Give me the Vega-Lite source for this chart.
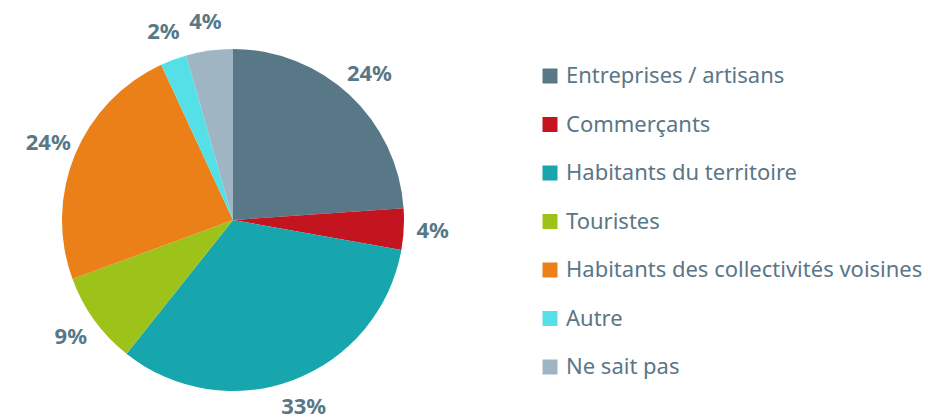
{
  "$schema": "https://vega.github.io/schema/vega-lite/v6.json",
  "autosize": {"type": "none"},
  "width": 466,
  "height": 398,
  "padding": {"top": 21, "left": 0, "right": 462, "bottom": 0},
  "background": "white",
  "config": {"view": {"stroke": null}, "font": "Noto Sans"},
  "data": {
    "values": [
      {"idx": 1, "cat": "Entreprises / artisans", "val": 23.9, "label": "24%"},
      {"idx": 2, "cat": "Commerçants", "val": 3.9, "label": "4%"},
      {"idx": 3, "cat": "Habitants du territoire", "val": 32.9, "label": "33%"},
      {"idx": 4, "cat": "Touristes", "val": 8.7, "label": "9%"},
      {"idx": 5, "cat": "Habitants des collectivités voisines", "val": 23.7, "label": "24%"},
      {"idx": 6, "cat": "Autre", "val": 2.5, "label": "2%"},
      {"idx": 7, "cat": "Ne sait pas", "val": 4.4, "label": "4%"}
    ]
  },
  "encoding": {
    "theta": {"field": "val", "type": "quantitative", "stack": true},
    "order": {"field": "idx", "type": "quantitative"}
  },
  "layer": [
    {
      "mark": {"type": "arc", "radius": 171},
      "encoding": {
        "color": {
          "field": "cat",
          "type": "nominal",
          "sort": ["Entreprises / artisans", "Commerçants", "Habitants du territoire", "Touristes", "Habitants des collectivités voisines", "Autre", "Ne sait pas"],
          "scale": {
            "domain": ["Entreprises / artisans", "Commerçants", "Habitants du territoire", "Touristes", "Habitants des collectivités voisines", "Autre", "Ne sait pas"],
            "range": ["#587888", "#c3141f", "#17a5ae", "#9dc21a", "#ec8018", "#55e0e8", "#9fb5c3"]
          },
          "legend": {
            "title": null,
            "orient": "none",
            "legendX": 539,
            "legendY": 44,
            "symbolType": "square",
            "symbolSize": 225,
            "symbolStrokeWidth": 0,
            "labelFontSize": 22,
            "labelColor": "#5a7687",
            "labelFont": "Noto Sans",
            "labelOffset": 5,
            "rowPadding": 26.5,
            "labelLimit": 500
          }
        }
      }
    },
    {
      "mark": {"type": "text", "radius": 200, "fontSize": 22, "fontWeight": "bold", "color": "#587888", "font": "Noto Sans", "baseline": "middle"},
      "encoding": {
        "text": {"field": "label"}
      }
    }
  ]
}
